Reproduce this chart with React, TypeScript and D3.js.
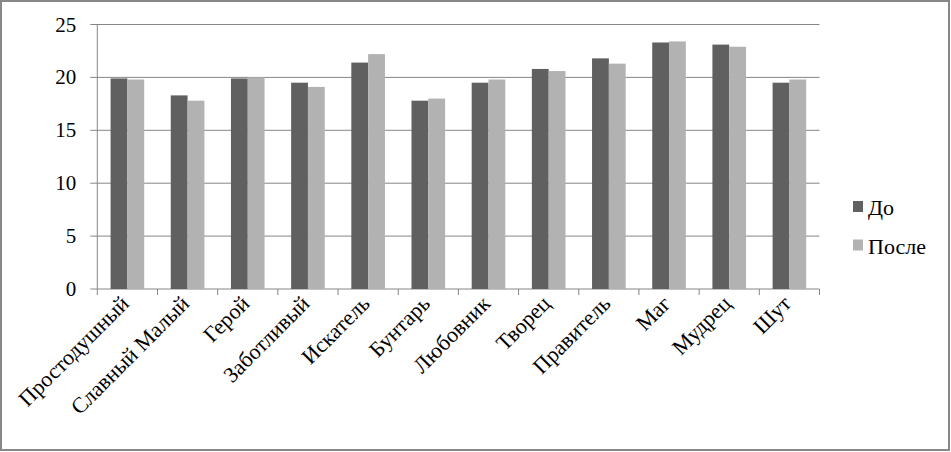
import { useEffect, useRef } from "react";
import * as d3 from "d3";

const categories = [
  "Простодушный",
  "Славный Малый",
  "Герой",
  "Заботливый",
  "Искатель",
  "Бунтарь",
  "Любовник",
  "Творец",
  "Правитель",
  "Маг",
  "Мудрец",
  "Шут",
];
const seriesNames = ["До", "После"];
const beforeValues = [19.9, 18.3, 19.9, 19.5, 21.4, 17.8, 19.5, 20.8, 21.8, 23.3, 23.1, 19.5];
const afterValues = [19.8, 17.8, 20.0, 19.1, 22.2, 18.0, 19.8, 20.6, 21.3, 23.4, 22.9, 19.8];
const yTicks = [0, 5, 10, 15, 20, 25];

const colors = ["#606060", "#b2b2b2"];
const font = "Liberation Serif, DejaVu Serif, serif";

const width = 951;
const height = 452;
const margin = { top: 24.5, right: 131.5, bottom: 163, left: 97.3 };

export default function App() {
  const svgRef = useRef<SVGSVGElement>(null);

  useEffect(() => {
    const svg = d3.select(svgRef.current);
    svg.selectAll("*").remove();

    const innerW = width - margin.left - margin.right;
    const innerH = height - margin.top - margin.bottom;

    // frame around the whole chart
    svg
      .append("rect")
      .attr("x", 1)
      .attr("y", 1)
      .attr("width", width - 3)
      .attr("height", height - 3)
      .attr("fill", "white")
      .attr("stroke", "#878787")
      .attr("stroke-width", 2);

    const g = svg
      .append("g")
      .attr("transform", `translate(${margin.left},${margin.top})`);

    const x = d3.scaleBand().domain(categories).range([0, innerW]).padding(0);
    const xInner = d3
      .scaleBand()
      .domain(seriesNames)
      .range([0, x.bandwidth()])
      .paddingInner(0)
      .paddingOuter(0.79);
    const y = d3.scaleLinear().domain([0, 25]).range([innerH, 0]);

    // gridlines
    g.selectAll("line.grid")
      .data(yTicks)
      .join("line")
      .attr("class", "grid")
      .attr("x1", -7)
      .attr("x2", innerW)
      .attr("y1", (d) => y(d))
      .attr("y2", (d) => y(d))
      .attr("stroke", "#868686")
      .attr("stroke-width", 1);

    // y axis line
    g.append("line")
      .attr("x1", 0)
      .attr("x2", 0)
      .attr("y1", 0)
      .attr("y2", innerH)
      .attr("stroke", "#868686");

    // y tick labels
    g.selectAll("text.ytick")
      .data(yTicks)
      .join("text")
      .attr("class", "ytick")
      .attr("x", -21)
      .attr("y", (d) => y(d) + 7)
      .attr("text-anchor", "end")
      .style("font-family", font)
      .style("font-size", "21px")
      .text((d) => d);

    // x ticks
    const xTickPos = categories.map((c) => x(c) as number).concat([innerW]);
    g.selectAll("line.xtick")
      .data(xTickPos)
      .join("line")
      .attr("class", "xtick")
      .attr("x1", (d) => d)
      .attr("x2", (d) => d)
      .attr("y1", innerH)
      .attr("y2", innerH + 6)
      .attr("stroke", "#868686");

    // bars
    const rows = categories.map((c, i) => ({
      cat: c,
      values: [beforeValues[i], afterValues[i]],
    }));
    const groups = g
      .selectAll("g.cat")
      .data(rows)
      .join("g")
      .attr("class", "cat")
      .attr("transform", (d) => `translate(${x(d.cat)},0)`);
    groups
      .selectAll("rect")
      .data((d) => d.values.map((v, j) => ({ s: seriesNames[j], v, j })))
      .join("rect")
      .attr("x", (d) => xInner(d.s) as number)
      .attr("y", (d) => y(d.v))
      .attr("width", xInner.bandwidth())
      .attr("height", (d) => innerH - y(d.v))
      .attr("fill", (d) => colors[d.j]);

    // category labels, rotated
    g.selectAll("text.xlabel")
      .data(categories)
      .join("text")
      .attr("class", "xlabel")
      .attr(
        "transform",
        (d) =>
          `translate(${(x(d) as number) + x.bandwidth() / 2 + 3},${innerH + 16}) rotate(-45)`
      )
      .attr("text-anchor", "end")
      .style("font-family", font)
      .style("font-size", "22px")
      .text((d) => d);

    // legend
    const legend = svg
      .append("g")
      .attr("transform", `translate(853,200)`);
    seriesNames.forEach((name, i) => {
      legend
        .append("rect")
        .attr("x", 0)
        .attr("y", i * 38.5 + 1)
        .attr("width", 10)
        .attr("height", 11)
        .attr("fill", colors[i]);
      legend
        .append("text")
        .attr("x", 15)
        .attr("y", i * 38.5 + 15)
        .style("font-family", font)
        .style("font-size", "22px")
        .text(name);
    });
  }, []);

  return (
    <svg
      ref={svgRef}
      width={width}
      height={height}
      style={{ position: "absolute", left: 0, top: 0, background: "white" }}
    ></svg>
  );
}
